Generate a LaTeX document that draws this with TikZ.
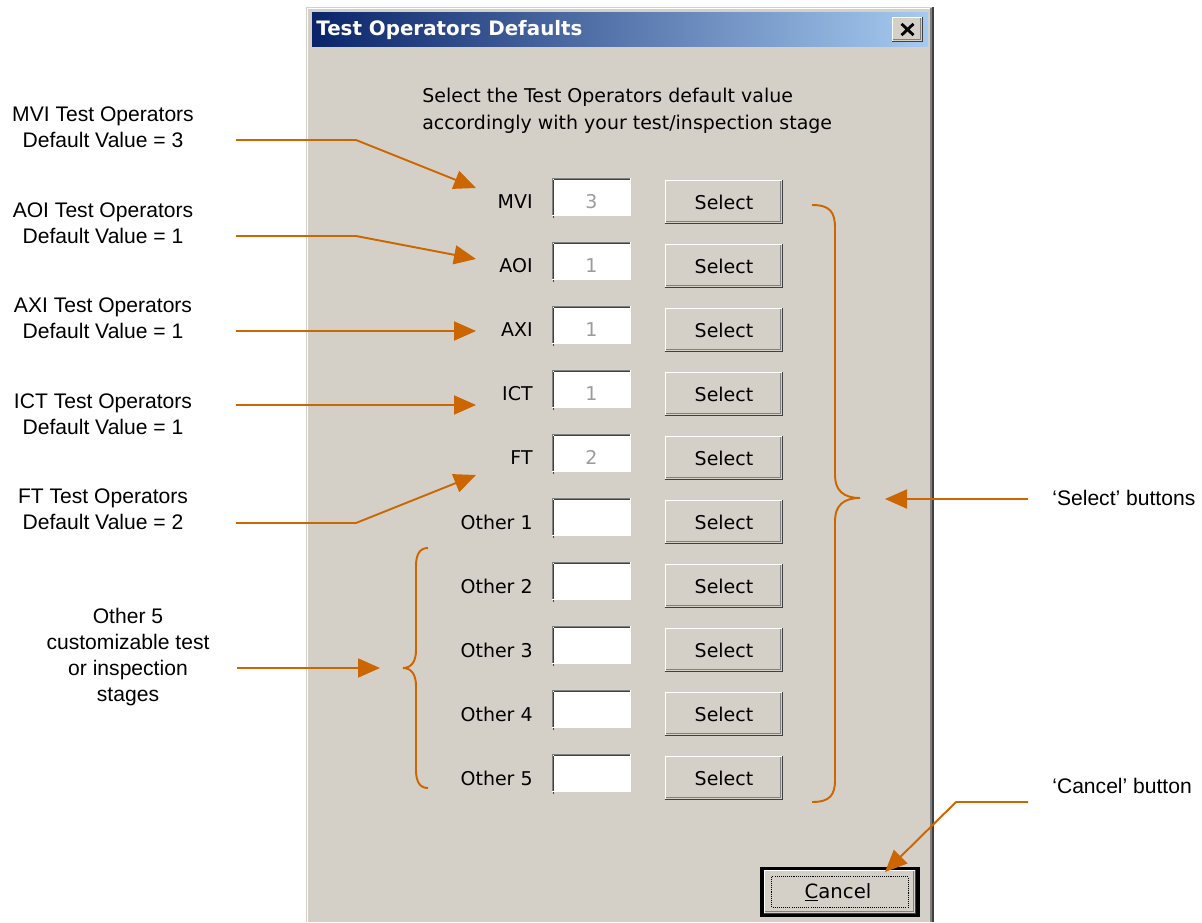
\documentclass[tikz,border=0pt]{standalone}
\usepackage{fontspec}
\setmainfont{Liberation Sans}
\newfontfamily\dlgfont{DejaVu Sans}
\usetikzlibrary{arrows.meta}

\definecolor{winface}{HTML}{D4D0C8}
\definecolor{winshadow}{HTML}{808080}
\definecolor{windark}{HTML}{404040}
\definecolor{titleA}{HTML}{0A246A}
\definecolor{titleB}{HTML}{A6CAF0}
\definecolor{callout}{HTML}{CC6600}
\definecolor{numgray}{HTML}{9C9C9C}

\tikzset{
  note/.style={font=\fontsize{12}{14.7}\selectfont, align=center, inner sep=0pt},
  dlg/.style={font=\dlgfont\fontsize{10.8}{15.3}\selectfont, inner sep=0pt},
  tbox/.style={dlg, fill=white, minimum width=1.58cm, minimum height=0.76cm, text=numgray},
  btn/.style={dlg, fill=winface, minimum width=2.36cm, minimum height=0.86cm},
  arr/.style={draw=callout, line width=1.1pt, line join=round,
              -{Triangle[length=4.4mm,width=3.8mm]}},
  brace/.style={draw=callout, line width=1.1pt},
  % raised 3D edges: light top-left, dark bottom-right
  raised/.style={append after command={
      [line width=1.1pt] ([xshift=0.3pt,yshift=0.3pt]\tikzlastnode.south west)
        edge[draw=white, -] ([xshift=0.3pt]\tikzlastnode.north west)
      ([xshift=0.3pt,yshift=-0.3pt]\tikzlastnode.north west)
        edge[draw=white, -] ([yshift=-0.3pt]\tikzlastnode.north east)
      ([yshift=0.3pt]\tikzlastnode.south west)
        edge[draw=windark, -] ([yshift=0.3pt]\tikzlastnode.south east)
      ([xshift=-0.3pt]\tikzlastnode.south east)
        edge[draw=windark, -] ([xshift=-0.3pt]\tikzlastnode.north east)
      ([xshift=0.6pt,yshift=1.4pt]\tikzlastnode.south west)
        edge[draw=winshadow, line width=0.6pt, -] ([xshift=-1.4pt,yshift=1.4pt]\tikzlastnode.south east)
      ([xshift=-1.4pt,yshift=1.4pt]\tikzlastnode.south east)
        edge[draw=winshadow, line width=0.6pt, -] ([xshift=-1.4pt,yshift=-0.6pt]\tikzlastnode.north east)
  }},
  % sunken 3D edges: dark top-left, light bottom-right
  sunken/.style={append after command={
      [line width=1.1pt] ([xshift=0.3pt]\tikzlastnode.south west)
        edge[draw=winshadow, -] ([xshift=0.3pt]\tikzlastnode.north west)
      ([yshift=-0.3pt]\tikzlastnode.north west)
        edge[draw=winshadow, -] ([yshift=-0.3pt]\tikzlastnode.north east)
      ([xshift=1.2pt,yshift=-1.1pt]\tikzlastnode.south west)
        edge[draw=windark, line width=0.6pt, -] ([xshift=1.2pt,yshift=-1.1pt]\tikzlastnode.north west)
      ([xshift=1.2pt,yshift=-1.2pt]\tikzlastnode.north west)
        edge[draw=windark, line width=0.6pt, -] ([xshift=-1pt,yshift=-1.2pt]\tikzlastnode.north east)
      ([yshift=0.3pt]\tikzlastnode.south west)
        edge[draw=white, -] ([yshift=0.3pt]\tikzlastnode.south east)
      ([xshift=-0.3pt]\tikzlastnode.south east)
        edge[draw=white, -] ([xshift=-0.3pt]\tikzlastnode.north east)
  }}
}

\begin{document}
\begin{tikzpicture}[x=0.02cm, y=-0.02cm]
\useasboundingbox (0,0) rectangle (1202,922);
\fill[white] (0,0) rectangle (1202,922);

% dialog window frame
\fill[winface] (306,7) rectangle (934,922);
\draw[white, line width=0.6pt] (307.5,922) -- (307.5,8.5) -- (932,8.5);
\fill[winshadow] (929.5,8) rectangle (931.5,922);
\fill[windark] (931.5,7) rectangle (934,922);

% title bar
\shade[left color=titleA, right color=titleB] (312,13) rectangle (928,47);
\node[anchor=west, text=white, inner sep=0pt,
      font=\dlgfont\bfseries\fontsize{11.3}{13}\selectfont] (title) at (316,30)
      {Test Operators Defaults};
\node[fill=winface, minimum width=0.62cm, minimum height=0.5cm, inner sep=0pt, raised]
      (close) at (907.5,29.5) {};
\draw[black, line width=1.6pt] ([xshift=-3.4pt,yshift=3.2pt]close.center) -- ([xshift=3.4pt,yshift=-3.2pt]close.center)
      ([xshift=-3.4pt,yshift=-3.2pt]close.center) -- ([xshift=3.4pt,yshift=3.2pt]close.center);

% instruction text
\node[dlg, align=left, anchor=west] (intro) at (422,111)
      {Select the Test Operators default value\\accordingly with your test/inspection stage};

% rows: stage label, value box, Select button
\foreach \lab/\val [count=\i from 0] in {MVI/3, AOI/1, AXI/1, ICT/1, FT/2,
      Other 1/{}, Other 2/{}, Other 3/{}, Other 4/{}, Other 5/{}} {
  \pgfmathsetmacro\yc{202+64*\i}
  \node[dlg, anchor=east] (lab\i) at (533,\yc) {\lab};
  \node[tbox, sunken] (box\i) at (591.5,\yc-5) {\raisebox{-6.6pt}[0pt][0pt]{\val}};
  \node[btn, raised] (btn\i) at (724,\yc) {Select};
}

% Cancel button (default button with focus rectangle)
\fill[black] (760,867) rectangle (920,917);
\node[btn, minimum width=3.04cm, minimum height=0.88cm, raised] (cancel) at (840,892) {};
\draw[black, line width=0.6pt, dash pattern=on 0.6pt off 0.6pt]
      ([xshift=4.5pt,yshift=-4pt]cancel.north west) rectangle ([xshift=-4.5pt,yshift=4pt]cancel.south east);
\node[dlg, font=\dlgfont\fontsize{11.2}{13}\selectfont] (cancelText) at (838,892.5) {\underline{C}ancel};

% callout texts
\node[note] (nMVI) at (103,127) {MVI Test Operators\\Default Value = 3};
\node[note] (nAOI) at (103,223) {AOI Test Operators\\Default Value = 1};
\node[note] (nAXI) at (103,318) {AXI Test Operators\\Default Value = 1};
\node[note] (nICT) at (103,414) {ICT Test Operators\\Default Value = 1};
\node[note] (nFT)  at (103,509) {FT Test Operators\\Default Value = 2};
\node[note] (nOther) at (128,657) {Other 5\\customizable test\\or inspection\\stages};
\node[note, anchor=west] (nSelect) at (1052,498) {`Select' buttons};
\node[note, anchor=west] (nCancel) at (1052,786) {`Cancel' button};

% callout arrow ends
\coordinate (sMVI) at (236,140);   \coordinate (tMVI) at (476,188);
\coordinate (sAOI) at (236,236);   \coordinate (tAOI) at (476,259);
\coordinate (sAXI) at (236,331);   \coordinate (tAXI) at (476,331);
\coordinate (sICT) at (236,405);   \coordinate (tICT) at (476,405);
\coordinate (sFT)  at (236,523);   \coordinate (tFT)  at (476,475);
\coordinate (sOther) at (237,668); \coordinate (tOther) at (380,668);
\coordinate (sSelect) at (1028,499); \coordinate (tSelect) at (885,499);
\coordinate (sCancel) at (1028,802); \coordinate (tCancel) at (885,872);

\draw[arr] (sMVI) -- ++(120,0) -- (tMVI);
\draw[arr] (sAOI) -- ++(120,0) -- (tAOI);
\draw[arr] (sAXI) -- (tAXI);
\draw[arr] (sICT) -- (tICT);
\draw[arr] (sFT) -- ++(120,0) -- (tFT);
\draw[arr] (sOther) -- (tOther);
\draw[arr] (sSelect) -- (tSelect);
\draw[arr] (sCancel) -- ++(-72,0) -- (tCancel);

% braces
\draw[brace] (812,205) .. controls (830,205) and (835,212) .. (835,228)
  -- (835,475) .. controls (835,490) and (843,498) .. (860,498)
  .. controls (843,498) and (835,506) .. (835,521)
  -- (835,780) .. controls (835,795) and (830,802) .. (812,802);
\draw[brace] (428,548) .. controls (420,548) and (416,554) .. (416,566)
  -- (416,650) .. controls (416,662) and (411,668) .. (403,668)
  .. controls (411,668) and (416,674) .. (416,686)
  -- (416,770) .. controls (416,782) and (420,788) .. (428,788);
\end{tikzpicture}
\end{document}
